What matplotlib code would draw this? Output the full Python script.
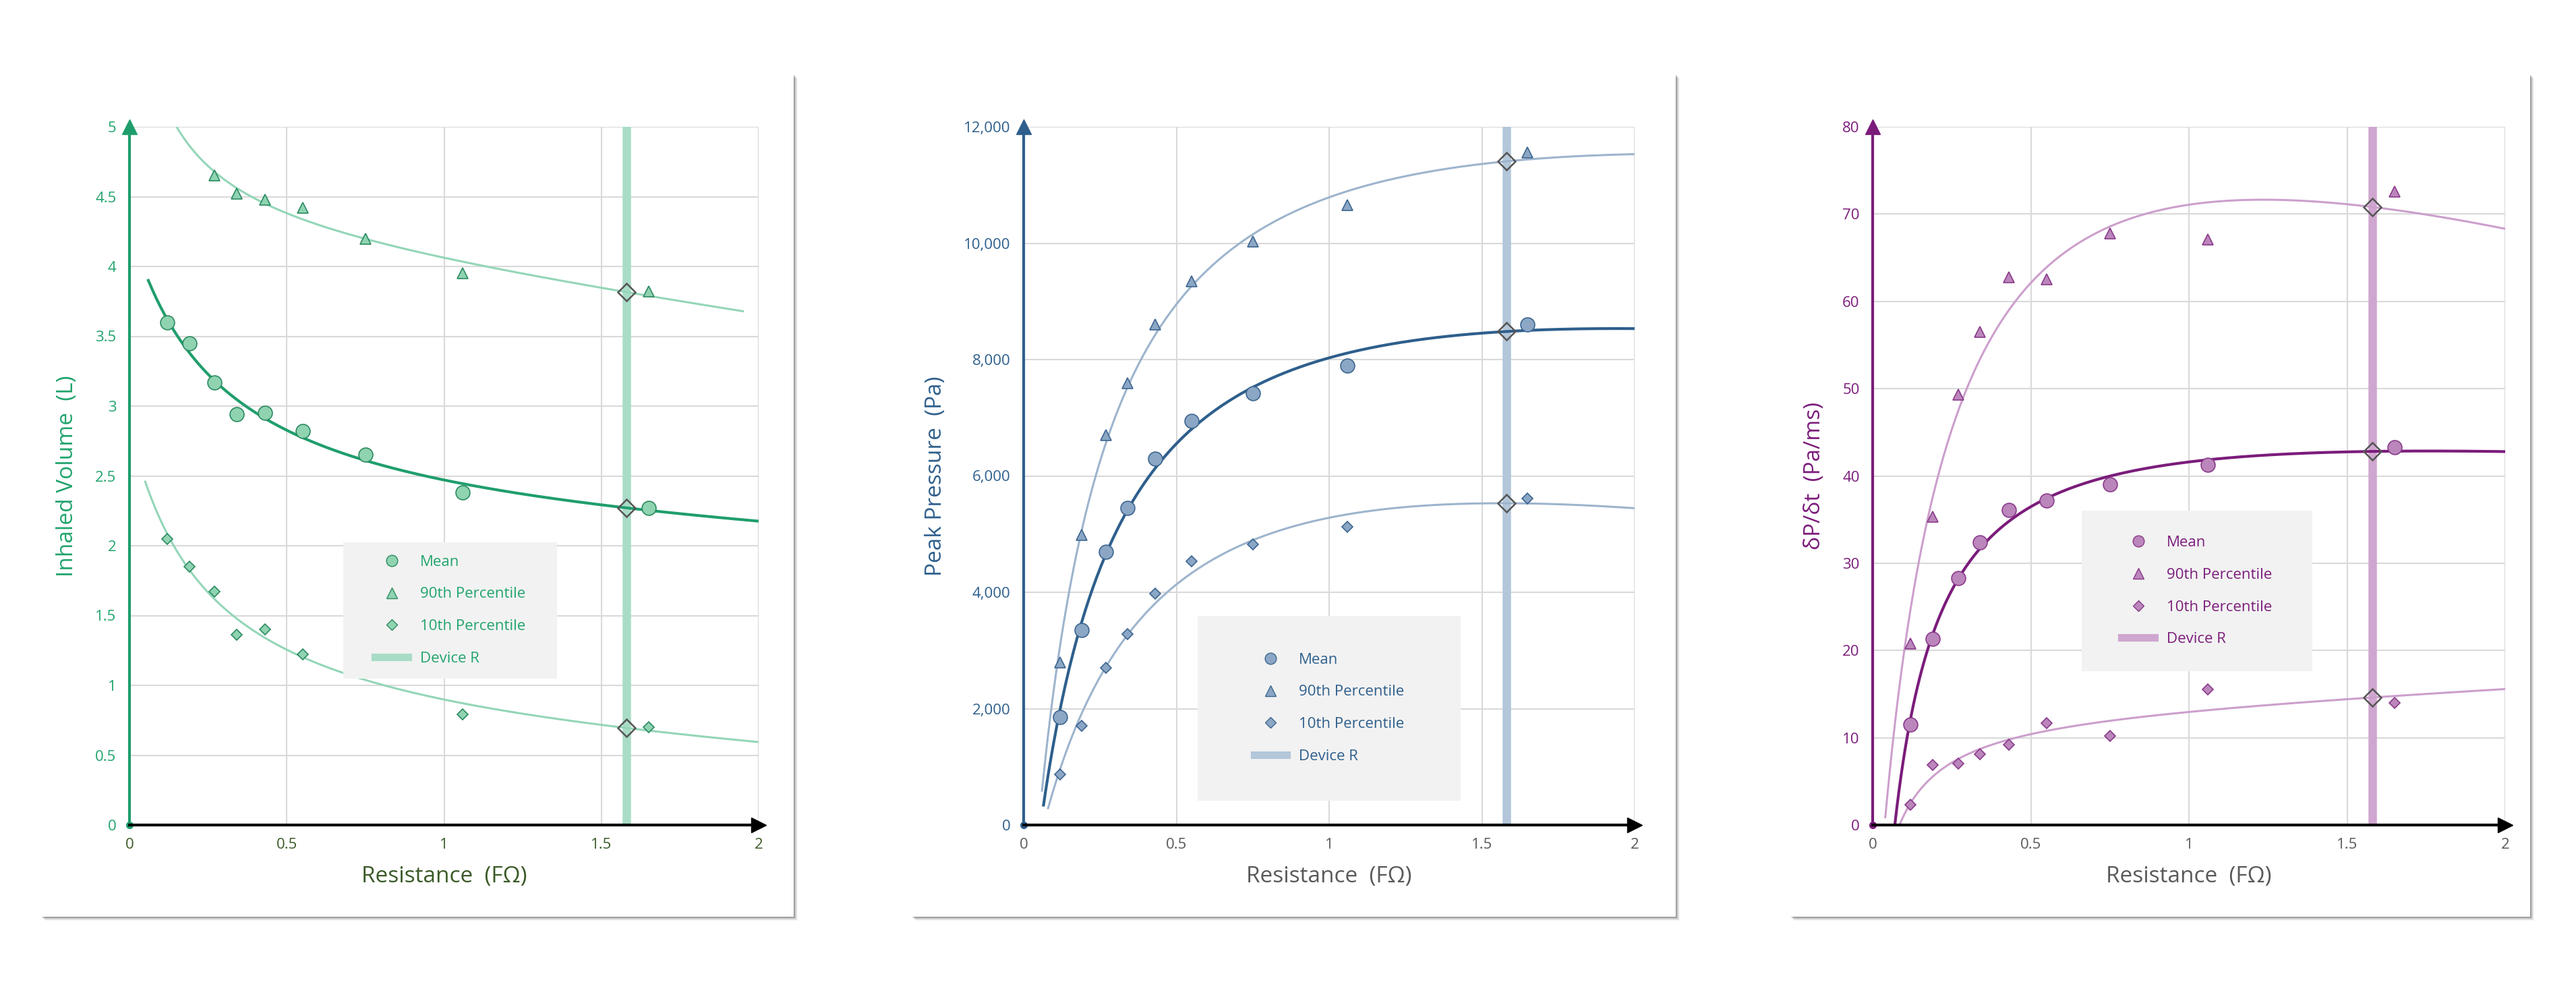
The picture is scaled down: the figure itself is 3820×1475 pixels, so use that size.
import numpy as np
import matplotlib.pyplot as plt
from matplotlib.patches import Rectangle
from matplotlib.lines import Line2D

plt.rcParams['font.family'] = ['Open Sans', 'DejaVu Sans']

# resistance values (FOhm)
res = [0.12, 0.19, 0.27, 0.34, 0.43, 0.55, 0.75, 1.06, 1.65]
res_90_vol = [0.27, 0.34, 0.43, 0.55, 0.75, 1.06, 1.65]
device_r = 1.58

# inhaled volume (L)
vol_mean = [3.6, 3.45, 3.17, 2.94, 2.95, 2.82, 2.65, 2.38, 2.27]
vol_90 = [4.65, 4.52, 4.48, 4.42, 4.2, 3.95, 3.82]
vol_10 = [2.05, 1.85, 1.67, 1.36, 1.40, 1.22, 1.09, 0.79, 0.70]

# peak pressure (Pa)
pp_mean = [1850, 3350, 4700, 5450, 6300, 6950, 7420, 7900, 8600]
pp_90 = [2800, 4980, 6700, 7600, 8600, 9350, 10030, 10660, 11560]
pp_10 = [870, 1700, 2700, 3280, 3980, 4530, 4820, 5130, 5610]

# dP/dt (Pa/ms)
dp_mean = [11.5, 21.3, 28.3, 32.4, 36.1, 37.2, 39.0, 41.3, 43.3]
dp_90 = [20.8, 35.3, 49.3, 56.5, 62.8, 62.5, 67.8, 67.1, 72.6]
dp_10 = [2.3, 6.9, 7.0, 8.1, 9.2, 11.7, 10.2, 15.5, 14.0]

# where each trend line begins
trend_start = {
    'vol_mean': (0.06, 3.9), 'vol_90': (0.15, 5.0), 'vol_10': (0.05, 2.46),
    'pp_mean': (0.065, 350), 'pp_90': (0.06, 600), 'pp_10': (0.08, 300),
    'dp_mean': (0.07, 0), 'dp_90': (0.04, 1), 'dp_10': (0.085, 0),
}
trend_end = {'vol_90': 1.95}


def fit_trend(x, y, x0, y0):
    # y = a + b/(x+c) + d*x, grid over c
    xs = np.append(np.array(x, float), x0)
    ys = np.append(np.array(y, float), y0)
    w = np.ones_like(xs)
    w[-1] = 4.0
    best = None
    for c in np.linspace(-x0 + 0.005, 2.0, 800):
        A = np.column_stack([np.ones_like(xs), 1 / (xs + c), xs])
        coef, *_ = np.linalg.lstsq(A * w[:, None], ys * w, rcond=None)
        err = np.sum((A @ coef - ys) ** 2 * w)
        if best is None or err < best[0]:
            best = (err, c, coef)
    _, c, (a, b, d) = best
    return lambda t: a + b / (t + c) + d * t


panels = [
    dict(series=[('vol_mean', res, vol_mean), ('vol_90', res_90_vol, vol_90), ('vol_10', res, vol_10)],
         ylabel='Inhaled Volume  (L)', ylim=(0, 5), yticks=np.arange(0, 5.01, 0.5),
         fmt=lambda v: f'{v:g}', dark='#1f9e6c', light='#93d6b7', fill='#8fd3b1',
         edge='#2b8a60', band='#a9dcc6', text='#21a46c', xlab='#3b5a27',
         legend=(0.34, 0.21, 0.34, 0.195), card=(61, 110, 1177, 1359), ax=(192, 188, 1125, 1223)),
    dict(series=[('pp_mean', res, pp_mean), ('pp_90', res, pp_90), ('pp_10', res, pp_10)],
         ylabel='Peak Pressure  (Pa)', ylim=(0, 12000), yticks=np.arange(0, 12001, 2000),
         fmt=lambda v: f'{v:,.0f}', dark='#2e5f8c', light='#9db4cd', fill='#8ba7c5',
         edge='#3c6590', band='#b3c6da', text='#2e5f8c', xlab='#595959',
         legend=(0.285, 0.035, 0.43, 0.265), card=(1352, 110, 2485, 1359), ax=(1518, 188, 2424, 1223)),
    dict(series=[('dp_mean', res, dp_mean), ('dp_90', res, dp_90), ('dp_10', res, dp_10)],
         ylabel='δP/δt  (Pa/ms)', ylim=(0, 80), yticks=np.arange(0, 81, 10),
         fmt=lambda v: f'{v:g}', dark='#7b1c7b', light='#cc9fcc', fill='#bb86bb',
         edge='#8a3a8a', band='#cfa6cf', text='#7b1c7b', xlab='#595959',
         legend=(0.33, 0.22, 0.365, 0.23), card=(2655, 110, 3752, 1359), ax=(2777, 188, 3715, 1223)),
]

W, H = 3820, 1475
fig = plt.figure(figsize=(W / 100, H / 100), dpi=100)
fig.patch.set_facecolor('white')

for p in panels:
    x0, y0, x1, y1 = p['card']
    for k, a in zip(range(6, 0, -1), [0.03, 0.05, 0.07, 0.09, 0.12, 0.15]):
        fig.patches.append(Rectangle(((x0 + k) / W, 1 - (y1 + k) / H), (x1 - x0) / W, (y1 - y0) / H,
                                     transform=fig.transFigure, color='black', alpha=a, lw=0, zorder=-3))
    fig.patches.append(Rectangle((x0 / W, 1 - y1 / H), (x1 - x0) / W, (y1 - y0) / H,
                                 transform=fig.transFigure, color='white', lw=0, zorder=-2))
    ax0, ay0, ax1, ay1 = p['ax']
    ax = fig.add_axes([ax0 / W, 1 - ay1 / H, (ax1 - ax0) / W, (ay1 - ay0) / H])
    ax.set_zorder(1)
    ax.set_facecolor('none')
    ax.set_xlim(0, 2)
    ax.set_ylim(*p['ylim'])
    ax.set_xticks([0, 0.5, 1, 1.5, 2])
    ax.set_xticklabels(['0', '0.5', '1', '1.5', '2'])
    ax.set_yticks(p['yticks'])
    ax.set_yticklabels([p['fmt'](v) for v in p['yticks']])
    ax.grid(color='#d9d9d9', lw=1.5)
    ax.set_axisbelow(True)
    for s in ['top', 'right']:
        ax.spines[s].set_visible(False)
    ax.spines['left'].set_color(p['dark'])
    ax.spines['left'].set_linewidth(3)
    ax.spines['bottom'].set_color('black')
    ax.spines['bottom'].set_linewidth(3)
    ax.plot(1, 0, '>', color='black', ms=16, transform=ax.transAxes, clip_on=False)
    ax.plot(0, 1, '^', color=p['dark'], ms=16, transform=ax.transAxes, clip_on=False)
    ax.plot(0, 0, 'o', color=p['dark'], ms=7, transform=ax.transAxes, clip_on=False)
    ax.tick_params(length=0, labelsize=16, pad=14)
    for lab in ax.get_yticklabels():
        lab.set_color(p['text'])
    for lab in ax.get_xticklabels():
        lab.set_color(p['xlab'])
    ax.set_ylabel(p['ylabel'], fontsize=24, color=p['text'], labelpad=18)
    ax.set_xlabel('Resistance  (FΩ)', fontsize=24, color=p['xlab'], labelpad=14)

    ax.axvline(device_r, color=p['band'], lw=9, zorder=1)

    markers = ['o', '^', 'D']
    sizes = [15, 11, 8]
    for i, (key, xs, ys) in enumerate(p['series']):
        sx, sy = trend_start[key]
        f = fit_trend(xs, ys, sx, sy)
        t = np.linspace(sx, trend_end.get(key, 2.0), 300)
        ax.plot(t, f(t), color=p['dark'] if i == 0 else p['light'], lw=3 if i == 0 else 2.2, zorder=2)
        ax.plot(xs, ys, markers[i], ms=sizes[i], mfc=p['fill'], mec=p['edge'], mew=1.2, zorder=3)
        ax.plot(device_r, f(device_r), 'D', ms=13, mfc='none', mec='#555555', mew=1.8, zorder=4)

    lx, ly, lw_, lh = p['legend']
    ax.add_patch(Rectangle((lx, ly), lw_, lh, transform=ax.transAxes, color='#f2f2f2', lw=0, zorder=5))
    handles = [
        Line2D([], [], ls='none', marker='o', ms=12, mfc=p['fill'], mec=p['edge']),
        Line2D([], [], ls='none', marker='^', ms=11, mfc=p['fill'], mec=p['edge']),
        Line2D([], [], ls='none', marker='D', ms=8, mfc=p['fill'], mec=p['edge']),
        Line2D([], [], color=p['band'], lw=8),
    ]
    leg = ax.legend(handles, ['Mean', '90th Percentile', '10th Percentile', 'Device R'],
                    loc='center', bbox_to_anchor=(lx + lw_ / 2, ly + lh / 2), frameon=False,
                    fontsize=16, labelcolor=p['text'], handlelength=2.2, labelspacing=1.2)
    leg.set_zorder(6)

fig.savefig('out.png', dpi=100, facecolor='white')
